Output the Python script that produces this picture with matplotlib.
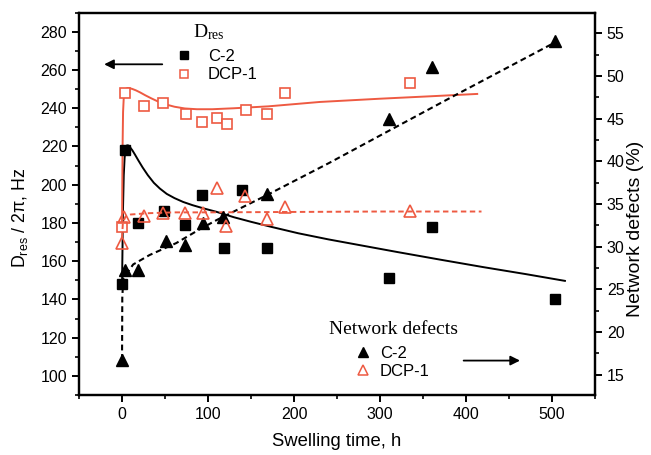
import matplotlib
matplotlib.use("Agg")
import matplotlib.pyplot as plt
from matplotlib.lines import Line2D
from matplotlib.ticker import MultipleLocator

plt.rcParams['font.family'] = ['Liberation Sans', 'DejaVu Sans']

RED = '#EE5A42'

# D_res / 2pi (left axis), squares
c2_t = [0, 4, 18, 49, 73, 93, 118, 139, 168, 311, 360, 504]
c2_dres = [148, 218, 180, 186, 179, 194.5, 167, 197.5, 167, 151, 178, 140]
dcp_t = [0, 3, 26, 48, 74, 93, 110, 122, 144, 168, 189, 335]
dcp_dres = [178, 248, 241, 243, 237, 233, 235, 232, 239, 237, 248, 253]

# network defects % (right axis), triangles
c2_nd_t = [0, 4, 19, 51, 73, 94, 117, 168, 311, 360, 504]
c2_nd = [16.7, 27.3, 27.2, 30.6, 30.2, 32.8, 33.5, 36.2, 45.0, 51.0, 54.1]
dcp_nd_t = [0, 2, 25, 48, 73, 94, 110, 121, 143, 168, 189, 335]
dcp_nd = [30.4, 33.5, 33.6, 33.9, 33.9, 33.9, 36.8, 32.4, 35.9, 33.2, 34.6, 34.2]

# fitted curves
c2_fit_t = [0, 0.5, 1, 2, 3, 4, 5.5, 7, 9, 12, 15, 19, 24, 30, 37, 44, 52, 61,
            71, 82, 95, 110, 130, 150, 175, 205, 240, 280, 320, 370, 420, 470, 515]
c2_fit = [148, 165, 185, 205, 214, 218.5, 220.5, 220.6, 219.8, 218, 215.8,
          212.7, 209, 205, 201, 198, 195.2, 193, 191, 189.3, 187.6, 185.8, 183,
          180.6, 177.8, 174.6, 171.4, 168.1, 164.8, 160.8, 156.9, 153.2, 149.7]
dcp_fit_t = [0, 0.3, 0.7, 1.2, 2, 3, 4.5, 6.5, 9, 12, 16, 21, 27, 34, 42, 51,
             61, 73, 87, 105, 130, 170, 230, 300, 360, 413]
dcp_fit = [178, 200, 222, 238, 245.5, 248.8, 250.2, 250.6, 250.5, 250.1, 249.4,
           248.3, 246.8, 245.2, 243.5, 242, 240.8, 239.9, 239.5, 239.5, 240,
           241, 243.3, 245, 246.3, 247.5]
c2_nd_fit_t = [0, 0.3, 1.5, 13, 32, 63, 90, 110, 168, 241, 311, 385, 505]
c2_nd_fit = [16.7, 24, 26.3, 27.9, 29.0, 30.4, 32.0, 33.1, 36.0, 39.8, 43.6,
             47.6, 54.0]
dcp_nd_fit_t = [0, 1, 4, 10, 30, 60, 100, 200, 300, 418]
dcp_nd_fit = [31.0, 32.8, 33.5, 33.75, 33.9, 34.0, 34.0, 34.05, 34.1, 34.1]

fig = plt.figure(figsize=(6.51, 4.55), dpi=100)
ax = fig.add_axes([0.1214, 0.1319, 0.7926, 0.8402])
ax2 = ax.twinx()

ax.plot(c2_fit_t, c2_fit, color='black', lw=1.4, zorder=2)
ax.plot(dcp_fit_t, dcp_fit, color=RED, lw=1.4, zorder=2)
ax.plot(c2_t, c2_dres, 's', color='black', ms=7, zorder=3)
ax.plot(dcp_t, dcp_dres, 's', mfc='white', mec=RED, mew=1.2, ms=7, zorder=3)

ax2.plot(c2_nd_fit_t, c2_nd_fit, color='black', lw=1.5, dashes=(2.8, 1.8))
ax2.plot(dcp_nd_fit_t, dcp_nd_fit, color=RED, lw=1.4, dashes=(2.8, 1.8))
ax2.plot(c2_nd_t, c2_nd, '^', color='black', ms=8)
ax2.plot(dcp_nd_t, dcp_nd, '^', mfc='none', mec=RED, mew=1.2, ms=8)

ax.set_xlim(-50, 550)
ax.set_ylim(90, 290)
ax2.set_ylim(12.6, 57.4)

ax.xaxis.set_major_locator(MultipleLocator(100))
ax.xaxis.set_minor_locator(MultipleLocator(50))
ax.yaxis.set_major_locator(MultipleLocator(20))
ax.yaxis.set_minor_locator(MultipleLocator(10))
ax2.yaxis.set_major_locator(MultipleLocator(5))
ax2.yaxis.set_minor_locator(MultipleLocator(2.5))
ax.set_xticks([0, 100, 200, 300, 400, 500])

for a in (ax, ax2):
    a.tick_params(which='major', direction='out', length=5, width=1.4, labelsize=11.5)
    a.tick_params(which='minor', direction='out', length=3, width=1.2)
    for s in a.spines.values():
        s.set_linewidth(1.6)
ax.tick_params(top=False, right=False, which='both')

ax.set_xlabel('Swelling time, h', fontsize=13.3, labelpad=8)
ax.set_ylabel(r'$\mathregular{D_{res}}$ / 2π, Hz', fontsize=12.8)
ax.yaxis.set_label_coords(-0.095, 0.463)
ax2.set_ylabel('Network defects (%)', fontsize=14)
ax2.yaxis.set_label_coords(1.062, 0.434)

# legends, titles as separate text
h1 = [Line2D([], [], ls='none', marker='s', color='black', ms=6),
      Line2D([], [], ls='none', marker='s', mfc='white', mec=RED, mew=1.1, ms=6)]
leg1 = ax2.legend(h1, ['C-2', 'DCP-1'], loc='center', bbox_to_anchor=(0.267, 0.861),
                  frameon=False, fontsize=12, handlelength=1, handletextpad=0.9,
                  labelspacing=0.2, borderpad=0)
ax2.add_artist(leg1)
h2 = [Line2D([], [], ls='none', marker='^', color='black', ms=6.5),
      Line2D([], [], ls='none', marker='^', mfc='white', mec=RED, mew=1.1, ms=6.5)]
ax2.legend(h2, ['C-2', 'DCP-1'], loc='center', bbox_to_anchor=(0.607, 0.085),
           frameon=False, fontsize=12, handlelength=1, handletextpad=0.5,
           labelspacing=0.2, borderpad=0)

ax.text(0.252, 0.950, r'$\mathregular{D_{res}}$', transform=ax.transAxes,
        ha='center', va='center', family='Liberation Serif', fontsize=14)
ax.text(0.610, 0.170, 'Network defects', transform=ax.transAxes,
        ha='center', va='center', family='Liberation Serif', fontsize=14)

ax.annotate('', xy=(-24, 263), xytext=(50, 263),
            arrowprops=dict(arrowstyle='-|>', color='black', lw=1.3,
                            mutation_scale=14))
ax.annotate('', xy=(466, 108), xytext=(394, 108),
            arrowprops=dict(arrowstyle='-|>', color='black', lw=1.3,
                            mutation_scale=14))

fig.savefig('out.png', dpi=100)
